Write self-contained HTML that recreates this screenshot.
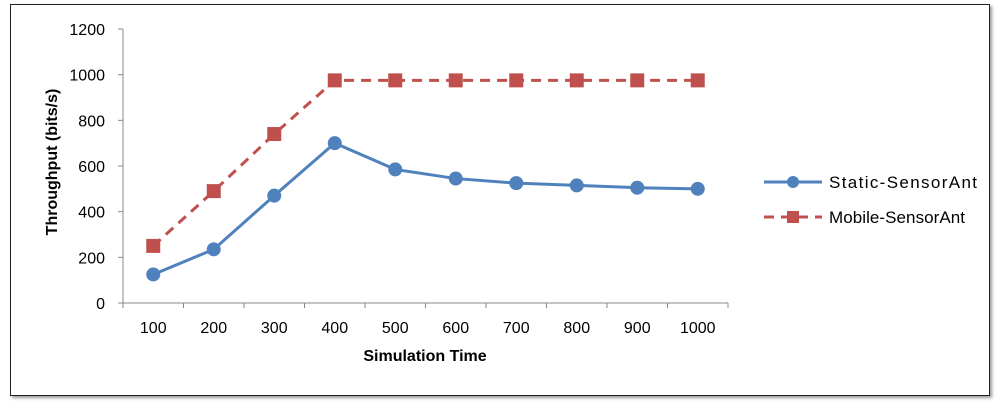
<!DOCTYPE html>
<html><head><style>
body{margin:0;background:#fff;width:1000px;height:409px;overflow:hidden;font-family:"Liberation Sans",sans-serif}
#frame{position:absolute;left:10px;top:4px;width:978px;height:390px;border:1.5px solid #222;box-shadow:2px 2px 3px #999}
</style></head><body>
<div id="frame"></div>
<svg id="c" width="1000" height="409" style="position:absolute;left:0;top:0"></svg>
<script>
const categories=[100,200,300,400,500,600,700,800,900,1000];
const staticVals=[125,235,470,700,585,545,525,515,505,500];
const mobileVals=[250,490,740,975,975,975,975,975,975,975];
const yTicks=[0,200,400,600,800,1000,1200];
const NS="http://www.w3.org/2000/svg",svg=document.getElementById('c');
const x0=123,x1=728,y0=303,y1=29;
const step=(x1-x0)/categories.length;
const X=i=>x0+step*(i+0.5);
const Y=v=>y0-(v/1200)*(y0-y1);
function el(t,a,p){const e=document.createElementNS(NS,t);for(const k in a)e.setAttribute(k,a[k]);(p||svg).appendChild(e);return e;}
let e;
e=el('line',{x1:x0,y1:y1,x2:x0,y2:y0,stroke:'#888','stroke-width':1});


e=el('line',{x1:x0,y1:y0,x2:x1,y2:y0,stroke:'#888','stroke-width':1});


yTicks.forEach(v=>{
 el('line',{x1:x0-5,y1:Y(v),x2:x0,y2:Y(v),stroke:'#888'});
 e=el('text',{x:x0-18,y:Y(v)+6,'text-anchor':'end','font-size':16,fill:'#000'});e.textContent=v;
 
 
});
for(let i=0;i<=categories.length;i++)el('line',{x1:x0+step*i,y1:y0,x2:x0+step*i,y2:y0+5,stroke:'#888'});
categories.forEach((c,i)=>{
 e=el('text',{x:X(i),y:333,'text-anchor':'middle','font-size':16,fill:'#000'});e.textContent=c;
 
 
});
e=el('text',{x:425,y:361,'text-anchor':'middle','font-size':16,'font-weight':'bold'});e.textContent='Simulation Time';


e=el('text',{x:0,y:0,'text-anchor':'middle','font-size':16,'font-weight':'bold',transform:'translate(57,162) rotate(-90)'});e.textContent='Throughput (bits/s)';


e=el('polyline',{points:mobileVals.map((v,i)=>X(i)+','+Y(v)).join(' '),fill:'none',stroke:'#C0504D','stroke-width':3,'stroke-dasharray':'10,7'});


mobileVals.forEach((v,i)=>{e=el('rect',{x:X(i)-7,y:Y(v)-7,width:14,height:14,fill:'#C0504D'});
 
 });
e=el('polyline',{points:staticVals.map((v,i)=>X(i)+','+Y(v)).join(' '),fill:'none',stroke:'#4F81BD','stroke-width':3});


staticVals.forEach((v,i)=>{e=el('circle',{cx:X(i),cy:Y(v),r:7,fill:'#4F81BD'});
 
 });
// legend
el('line',{x1:764,y1:182,x2:822,y2:182,stroke:'#4F81BD','stroke-width':3});
el('circle',{cx:793,cy:182,r:6,fill:'#4F81BD'});
e=el('text',{x:829,y:188,'font-size':17,textLength:148});e.textContent='Static-SensorAnt';


el('line',{x1:764,y1:217,x2:822,y2:217,stroke:'#C0504D','stroke-width':3,'stroke-dasharray':'10,7'});
el('rect',{x:787,y:211,width:12,height:12,fill:'#C0504D'});
e=el('text',{x:829,y:223,'font-size':17,textLength:136});e.textContent='Mobile-SensorAnt';


</script>
</body></html>
